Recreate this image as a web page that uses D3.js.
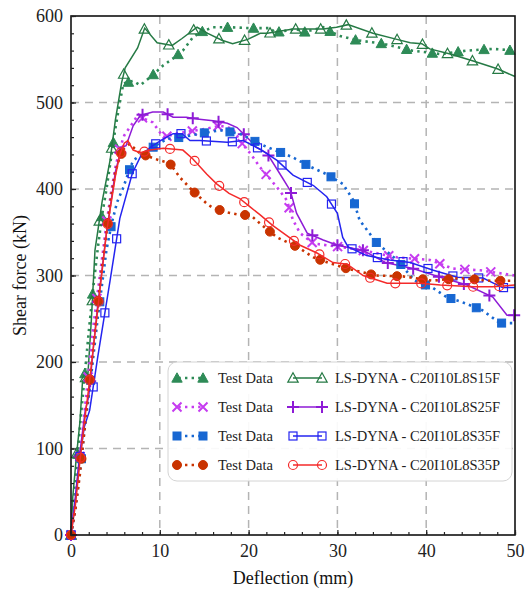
<!DOCTYPE html>
<html>
<head>
<meta charset="utf-8">
<script src="https://cdn.jsdelivr.net/npm/d3@7"></script>
<style>
  body { margin: 0; background: #fff; }
  svg, svg text { font-family: "Liberation Serif", "Times New Roman", serif; }
  .axis text { font-size: 18px; fill: #222; font-family: "Liberation Serif", "Times New Roman", serif; }
  .axis line { stroke: #222; stroke-width: 1.2; }
  .grid line { stroke: #b4b4b4; stroke-width: 1.5; stroke-dasharray: 8,6; }
</style>
</head>
<body>
<svg id="chart" width="529" height="590"></svg>
<script>
// shear force vs deflection

// test data curves (deflection mm, shear kN)
var testS15F = [[0,0],[0.5,60],[1,125],[1.5,180],[2,235],[2.5,285],[3,330],[3.5,370],[4,400],[4.5,435],[5,470],[5.5,500],[5.9,522],[7,525],[7.8,520],[8.9,529],[10.4,543],[11.5,551],[12.6,560],[13.7,575],[14.5,581],[16,587],[18,587],[20,586],[22.4,586],[23,581],[25.4,585],[26.1,581],[28.4,587],[29.4,581],[30.3,577],[32.2,572],[35.1,568],[38.4,560],[41.6,556],[44.6,560],[47.5,562],[50,560]];
var testS25F = [[0,0],[0.5,40],[1,90],[1.5,140],[2,190],[2.5,240],[3,280],[3.5,320],[4,360],[4.5,395],[5,425],[5.5,447],[6,462],[7,477],[7.5,485],[8.5,480],[9.2,477],[10.4,460],[11.9,464],[13,466],[14.2,468],[15.4,470],[16.8,473],[18.2,470],[19,456],[20.2,441],[21.3,425],[23.2,402],[24.3,387],[25,364],[25.8,349],[27.3,337],[28.8,335],[31,332],[32.9,329],[36.7,321],[40.4,318],[43,308],[46.1,306],[50,300]];
var testS35F = [[0,0],[0.5,30],[1.2,90],[1.5,120],[2,160],[2.5,205],[3,250],[3.5,290],[4,330],[4.6,361],[5.2,385],[5.9,402],[6.5,420],[7,433],[8.1,441],[9.2,448],[10.8,458],[12.6,460],[14.5,464],[16.8,468],[19,464],[21.3,452],[22.2,448],[24.9,437],[26.9,426],[28.8,417],[30.6,406],[31.8,387],[32.5,364],[34.4,338],[36.7,318],[38.7,294],[40.7,286],[42.3,275],[44.1,269],[46.3,260],[48.3,245],[50,245]];
var testS35P = [[0,0],[0.5,30],[1,70],[1.5,120],[2,170],[2.5,215],[3,265],[3.5,310],[4,350],[4.5,390],[5,420],[5.5,437],[6,447],[6.6,452],[7.8,441],[8.9,437],[10,433],[11.1,430],[12.3,413],[13.7,398],[15.3,383],[16,378],[17.6,373],[19,370],[20.2,370],[21.3,360],[23.2,344],[25.5,333],[27.3,321],[29.2,314],[31.1,308],[34.3,300],[37.4,299],[40.7,294],[43.8,297],[47.2,294],[50,294]];

// LS-DYNA curves
var simS15F = [[0,0],[0.2,44],[0.6,90],[1,130],[1.3,178],[1.9,185],[2.3,250],[2.7,329],[3.5,385],[4.4,433],[5,480],[5.7,523],[6.1,540],[7.5,563],[8.3,586],[9.7,569],[11.4,566],[12.5,574],[14.2,587],[15.4,580],[17,572],[18.2,568],[19.9,573],[21.3,580],[22.1,580],[25,585],[28.4,585],[29.9,587],[31.2,590],[34,580],[36.7,573],[38.2,569],[39.5,568],[40.4,562],[42.7,556],[45.3,548],[48,539],[50,530]];
var simS25F = [[0,0],[0.5,45],[1,95],[1.6,144],[2,160],[2.5,215],[3,265],[4,350],[5,420],[5.7,448],[6.2,450],[7,473],[7.8,485],[9.2,489],[10.4,489],[11.5,483],[13,483],[14.2,481],[16,479],[17.6,476],[18.7,471],[19.8,460],[20.9,448],[22.1,441],[23.8,413],[24.7,398],[25.4,372],[26.6,349],[28.4,341],[30,335],[32.9,329],[35.4,315],[38.5,308],[41.6,298],[44.6,289],[47.5,275],[49.1,254],[50,254]];
var simS35F = [[0,0],[0.5,40],[1,90],[1.5,125],[2.1,144],[3,205],[4.4,294],[5.5,366],[6.9,418],[7.8,437],[8.9,448],[10.4,458],[11.5,464],[12.5,464],[13.4,456],[14.5,456],[17.6,454],[19.4,456],[21.3,446],[23.2,433],[25,416],[27.3,404],[28.8,391],[30,372],[30.6,344],[31.2,333],[33.3,323],[35.9,318],[38.2,315],[40.8,306],[43.5,298],[46.4,297],[48.6,286],[50,286]];
var simS35P = [[0,0],[0.5,35],[1,85],[1.5,130],[2,170],[2.5,215],[3,260],[4,350],[5,415],[5.5,440],[6,453],[6.4,456],[7,445],[7.8,442],[8.9,445],[10.4,447],[12.6,445],[13.7,435],[15.3,417],[16.4,406],[17.8,395],[19,389],[20.2,379],[21.3,370],[22.7,358],[24.3,346],[25.8,335],[27.7,326],[29.5,315],[31.1,313],[32.9,300],[35.6,291],[39.3,291],[41.6,289],[45.3,287],[47.5,287],[50,289]];

var xTicks = [0, 10, 20, 30, 40, 50];
var yTicks = [0, 100, 200, 300, 400, 500, 600];
var simNames = ['LS-DYNA - C20I10L8S15F', 'LS-DYNA - C20I10L8S25F', 'LS-DYNA - C20I10L8S35F', 'LS-DYNA - C20I10L8S35P'];

var series = [
    {data: testS15F, col: '#2e8b57', kind: 'test', mark: 'tri', label: 'Test Data'},
    {data: simS15F, col: '#267a45', kind: 'sim', mark: 'tri', label: simNames[0]},
    {data: testS25F, col: '#c63cf0', kind: 'test', mark: 'x', label: 'Test Data'},
    {data: simS25F, col: '#8e1bd6', kind: 'sim', mark: 'plus', label: simNames[1]},
    {data: testS35F, col: '#1767d2', kind: 'test', mark: 'sq', label: 'Test Data'},
    {data: simS35F, col: '#2424f0', kind: 'sim', mark: 'sq', label: simNames[2]},
    {data: testS35P, col: '#c93300', kind: 'test', mark: 'circ', label: 'Test Data'},
    {data: simS35P, col: '#f42a2a', kind: 'sim', mark: 'circ', label: simNames[3]}
];

var svg = d3.select("#chart");
var margin = {top: 16, right: 14, bottom: 55, left: 71};
var width = 529 - margin.left - margin.right;
var height = 590 - margin.top - margin.bottom;

var g = svg.append("g")
    .attr("transform", "translate(" + margin.left + "," + margin.top + ")");

var x = d3.scaleLinear().domain([0, 50]).range([0, width]);
var y = d3.scaleLinear().domain([0, 600]).range([height, 0]);

// grid
g.append("g").attr("class", "grid")
    .selectAll("line").data(xTicks.slice(1, -1)).enter().append("line")
    .attr("x1", d => x(d)).attr("x2", d => x(d))
    .attr("y1", 0).attr("y2", height);
g.append("g").attr("class", "grid")
    .selectAll("line").data(yTicks.slice(1, -1)).enter().append("line")
    .attr("x1", 0).attr("x2", width)
    .attr("y1", d => y(d)).attr("y2", d => y(d));

// markers
function drawMarker(sel, type, col, cx, cy) {
    var m;
    if (type == 'tri-f' || type == 'tri-o') {
        var s = 5.2;
        m = sel.append("path")
            .attr("d", "M" + cx + "," + (cy - s) + "L" + (cx + s) + "," + (cy + s * 0.8) + "L" + (cx - s) + "," + (cy + s * 0.8) + "Z");
    } else if (type == 'sq-f' || type == 'sq-o') {
        m = sel.append("rect").attr("x", cx - 4).attr("y", cy - 4).attr("width", 8).attr("height", 8);
    } else if (type == 'circ-f' || type == 'circ-o') {
        m = sel.append("circle").attr("cx", cx).attr("cy", cy).attr("r", 4.5);
    } else if (type == 'x-f') {
        m = sel.append("path")
            .attr("d", "M" + (cx - 4.5) + "," + (cy - 4.5) + "L" + (cx + 4.5) + "," + (cy + 4.5) + "M" + (cx - 4.5) + "," + (cy + 4.5) + "L" + (cx + 4.5) + "," + (cy - 4.5));
        m.attr("stroke", col).attr("stroke-width", 2).attr("fill", "none");
        return;
    } else if (type == 'plus-o') {
        m = sel.append("path")
            .attr("d", "M" + (cx - 6) + "," + cy + "L" + (cx + 6) + "," + cy + "M" + cx + "," + (cy - 6) + "L" + cx + "," + (cy + 6));
        m.attr("stroke", col).attr("stroke-width", 2).attr("fill", "none");
        return;
    }
    if (type.slice(-1) == 'f') {
        m.attr("fill", col).attr("stroke", col).attr("stroke-width", 1);
    } else {
        m.attr("fill", "none").attr("stroke", col).attr("stroke-width", 1.2);
    }
}

var line = d3.line()
    .x(function(d) { return x(d[0]); })
    .y(function(d) { return y(d[1]); });

var plot = g.append("g");
series.forEach(function(s) {
    var path = plot.append("path")
        .datum(s.data)
        .attr("fill", "none")
        .attr("stroke", s.col)
        .attr("d", line);
    if (s.kind == 'test') {
        path.attr("stroke-width", 2.6).attr("stroke-dasharray", "2.4,4.2");
    } else {
        path.attr("stroke-width", 1.5);
    }
    // markers spaced along the curve, vertical travel counts less
    var node = path.node();
    var total = node.getTotalLength();
    var mtype = s.mark + (s.kind == 'test' ? '-f' : '-o');
    var step = 25;
    var acc = step;
    var prev = node.getPointAtLength(0);
    for (var l = 0; l <= total; l += 1) {
        var p = node.getPointAtLength(l);
        var dx = p.x - prev.x, dy = (p.y - prev.y) * 0.3;
        acc += Math.sqrt(dx * dx + dy * dy);
        prev = p;
        if (acc >= step) {
            drawMarker(plot, mtype, s.col, p.x, p.y);
            acc = 0;
        }
    }
});

// frame
g.append("rect")
    .attr("width", width).attr("height", height)
    .attr("fill", "none").attr("stroke", "#111").attr("stroke-width", 1.6);

// axes
var xAxis = d3.axisBottom(x).tickValues(xTicks).tickSizeInner(-5).tickSizeOuter(0).tickPadding(9);
var yAxis = d3.axisLeft(y).tickValues(yTicks).tickSizeInner(-5).tickSizeOuter(0).tickPadding(8);
var xMinor = d3.axisBottom(x).tickValues(d3.range(0, 51, 2)).tickSize(-3).tickFormat("");
var yMinor = d3.axisLeft(y).tickValues(d3.range(0, 601, 20)).tickSize(-3).tickFormat("");

[xAxis, xMinor].forEach(function(a) {
    g.append("g").attr("class", "axis")
        .attr("transform", "translate(0," + height + ")")
        .call(a)
        .attr("font-family", null)
        .select(".domain").remove();
});
[yAxis, yMinor].forEach(function(a) {
    g.append("g").attr("class", "axis")
        .call(a)
        .attr("font-family", null)
        .select(".domain").remove();
});

// axis labels
svg.append("text")
    .attr("x", margin.left + width / 2).attr("y", 584)
    .attr("text-anchor", "middle")
    .style("font-size", "18px").attr("fill", "#111")
    .text("Deflection (mm)");
svg.append("text")
    .attr("transform", "translate(26," + (margin.top + height / 2) + ") rotate(-90)")
    .attr("text-anchor", "middle")
    .style("font-size", "18px").attr("fill", "#111")
    .text("Shear force (kN)");

// legend
var lg = svg.append("g").attr("transform", "translate(168,362)");
lg.append("rect")
    .attr("width", 344).attr("height", 119).attr("rx", 9)
    .attr("fill", "#fff").attr("fill-opacity", 0.92)
    .attr("stroke", "#d4d4d4").attr("stroke-width", 1);

series.forEach(function(s, i) {
    var row = Math.floor(i / 2);
    var col = i % 2;
    var yy = 16 + row * 29;
    var x0 = col == 0 ? 9 : 125;
    var x1 = col == 0 ? 35 : 154;
    var tx = col == 0 ? 50 : 167;
    var seg = lg.append("line")
        .attr("x1", x0).attr("x2", x1).attr("y1", yy).attr("y2", yy)
        .attr("stroke", s.col);
    if (s.kind == 'test') {
        seg.attr("stroke-width", 2.6).attr("stroke-dasharray", "2.4,4.2").attr("stroke-dashoffset", -8);
    } else {
        seg.attr("stroke-width", 1.5);
    }
    var mtype = s.mark + (s.kind == 'test' ? '-f' : '-o');
    drawMarker(lg, mtype, s.col, x0, yy);
    drawMarker(lg, mtype, s.col, x1, yy);
    lg.append("text")
        .attr("x", tx).attr("y", yy).attr("dy", "0.35em")
        .style("font-size", "14.5px").attr("fill", "#222")
        .text(s.label);
});
</script>
</body>
</html>
